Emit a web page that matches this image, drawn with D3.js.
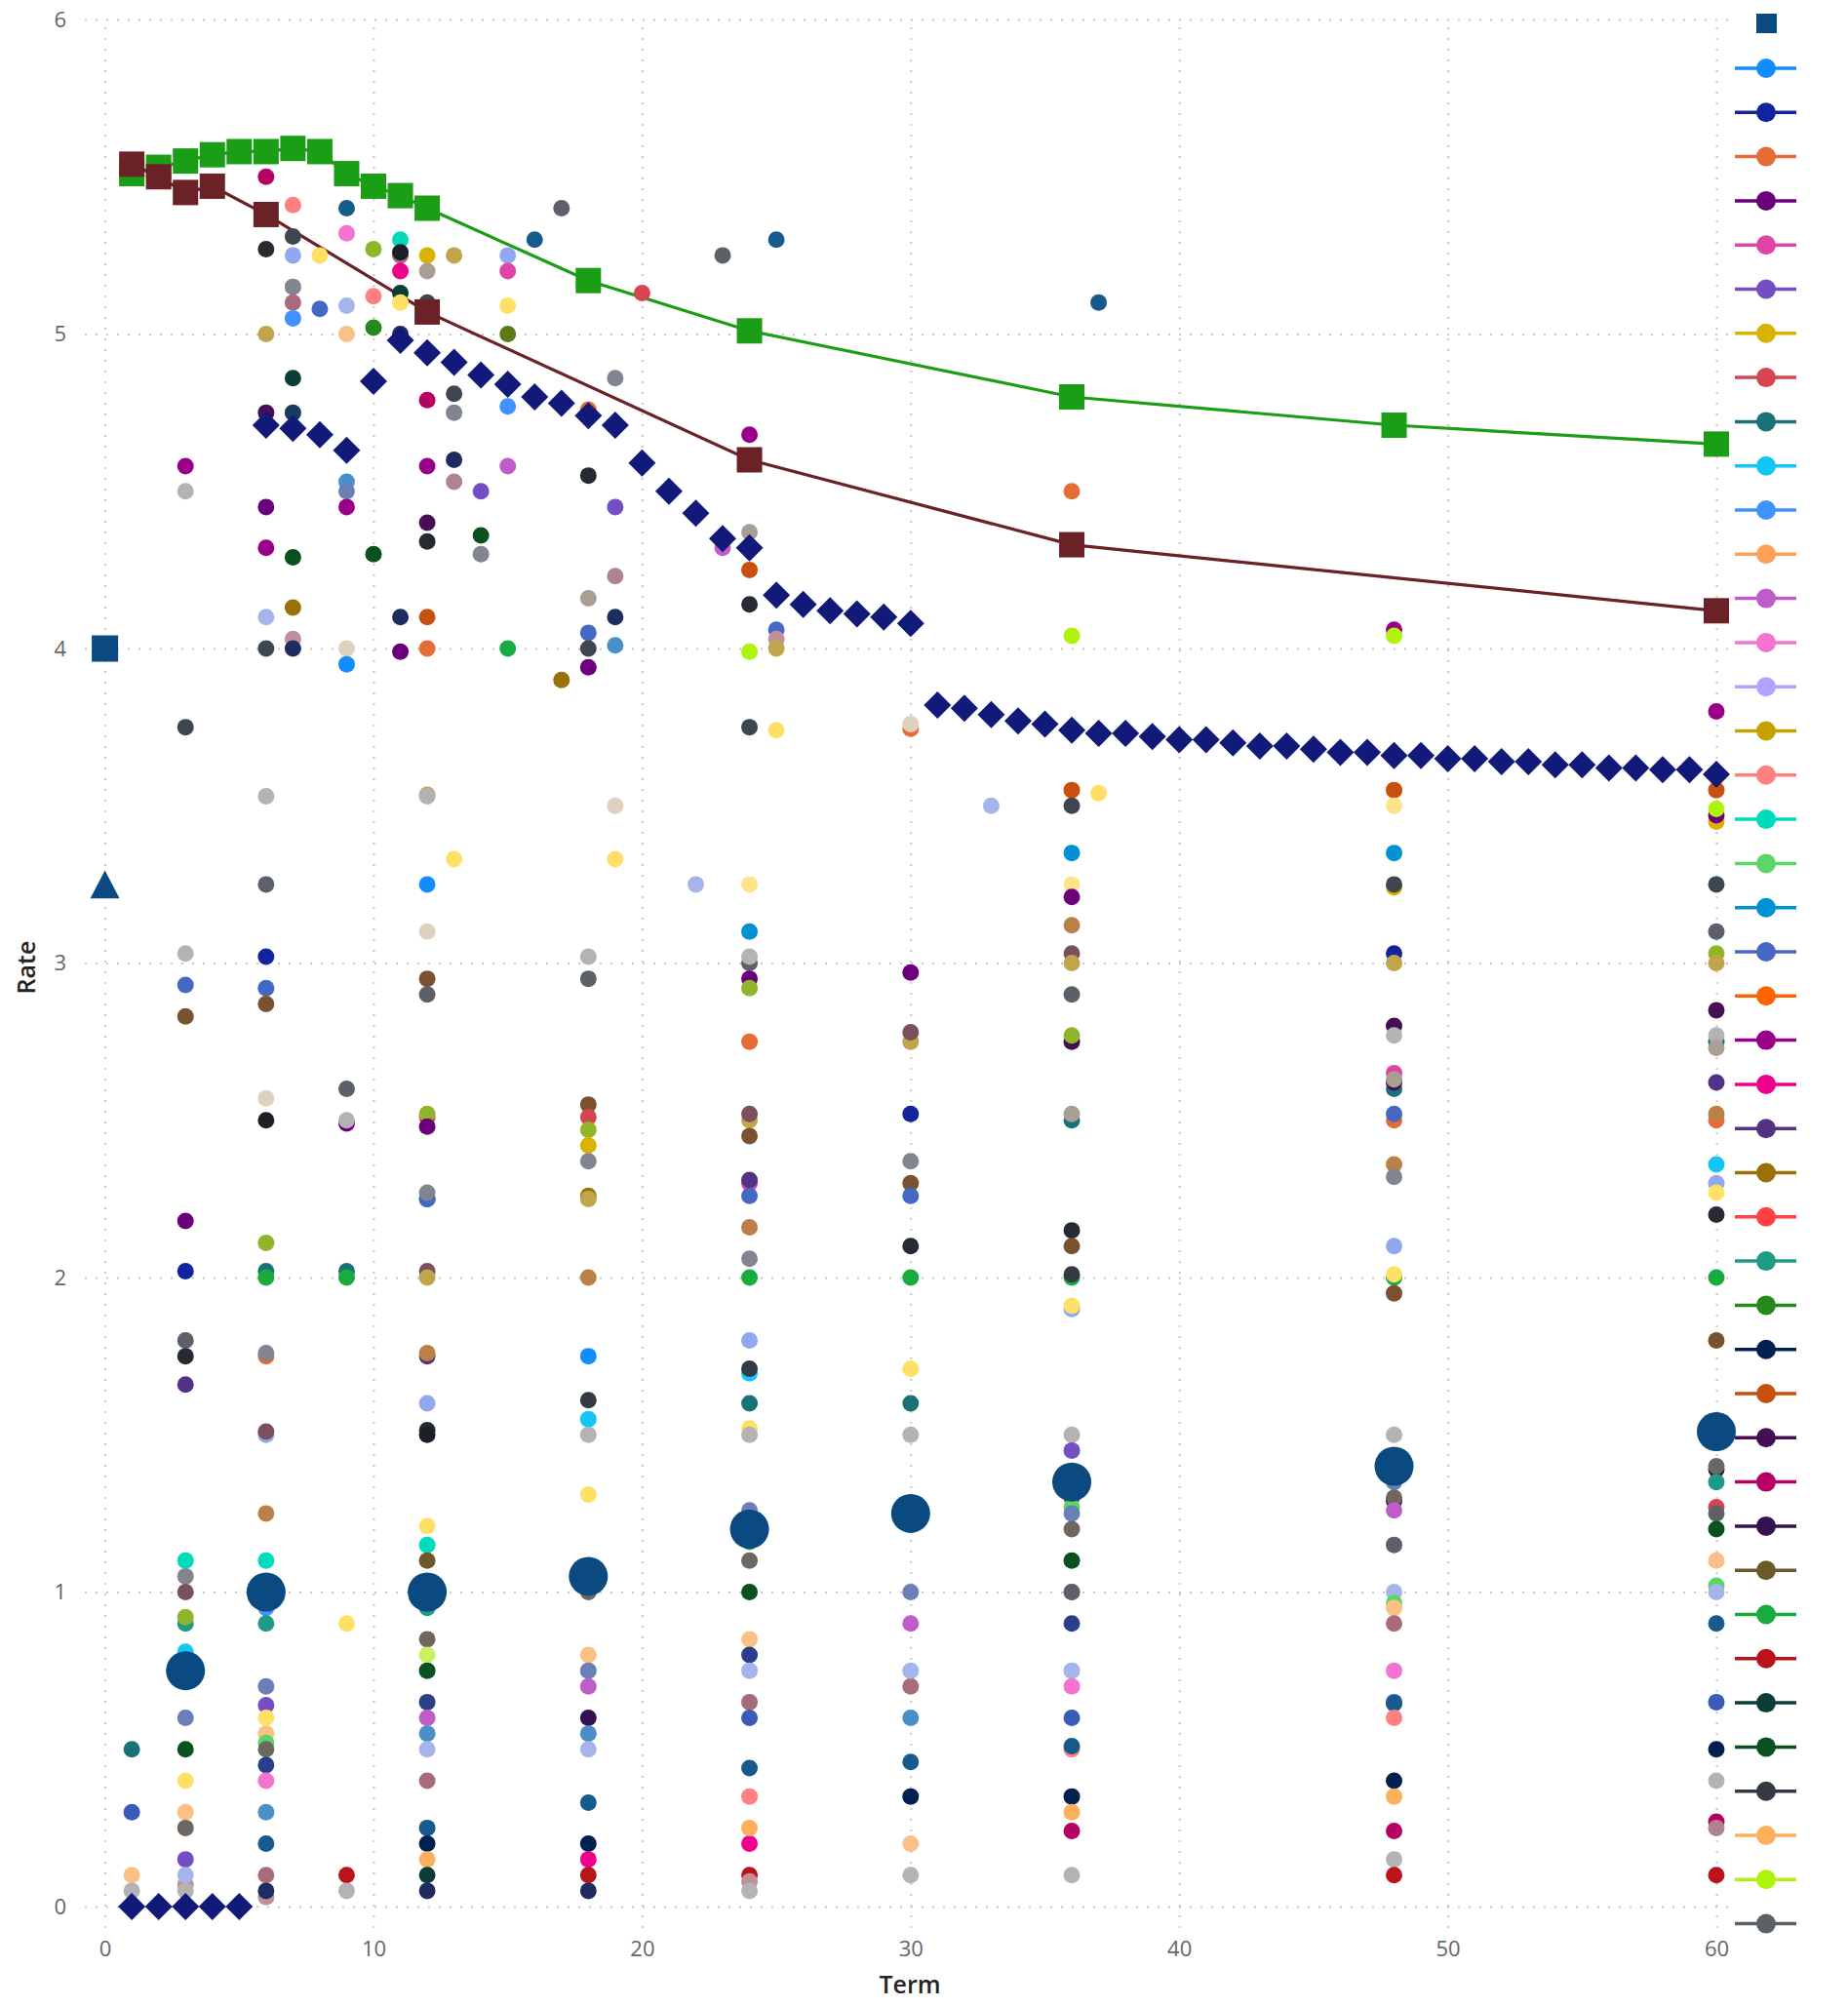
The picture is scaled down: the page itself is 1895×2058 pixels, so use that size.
<!DOCTYPE html>
<html><head><meta charset="utf-8">
<script src="https://cdn.jsdelivr.net/npm/d3@7"></script>
<style>
html,body{margin:0;padding:0;background:#fff;}
svg{display:block;}
text{font-family:"Segoe UI","Open Sans","Noto Sans",sans-serif;}
</style></head><body>
<svg id="chart" width="1895" height="2058"></svg>
<script>
// ---------- DATA ----------
const termTicks = [0,10,20,30,40,50,60];
const rateTicks = [0,1,2,3,4,5,6];

const greenTerms = [1,2,3,4,5,6,7,8,9,10,11,12,18,24,36,48,60];
const greenRates = [5.51,5.53,5.55,5.57,5.58,5.58,5.59,5.58,5.51,5.47,5.44,5.40,5.17,5.01,4.80,4.71,4.65];

const maroonTerms = [1,2,3,4,6,12,24,36,60];
const maroonRates = [5.54,5.50,5.45,5.47,5.38,5.07,4.60,4.33,4.12];

const diamondTerms = [1,2,3,4,5,6,7,8,9,10,11,12,13,14,15,16,17,18,19,20,21,22,23,24,25,26,27,28,29,30,31,32,33,34,35,36,37,38,39,40,41,42,43,44,45,46,47,48,49,50,51,52,53,54,55,56,57,58,59,60];
const diamondRates = [0,0,0,0,0,4.71,4.70,4.68,4.63,4.85,4.98,4.94,4.91,4.87,4.84,4.80,4.78,4.74,4.71,4.59,4.50,4.43,4.35,4.32,4.17,4.14,4.12,4.11,4.10,4.08,3.82,3.81,3.79,3.77,3.76,3.74,3.73,3.73,3.72,3.71,3.71,3.70,3.69,3.69,3.68,3.67,3.67,3.66,3.66,3.65,3.65,3.64,3.64,3.63,3.63,3.62,3.62,3.615,3.615,3.60];

const bigTerms = [3,6,12,18,24,30,36,48,60];
const bigRates = [0.75,1.00,1.00,1.05,1.20,1.25,1.35,1.40,1.51];

const squareTerm0 = [0, 4.0];
const triangleTerm0 = [0, 3.25];

const palette = {
 blue:'#118DFF', navy:'#12239E', orange:'#E66C37', purple:'#6B007B', pink:'#E044A7', violet:'#744EC2', gold:'#D9B300', red:'#D64550', teal:'#197278', cyan:'#15C6F4', blue2:'#4092FF', lorange:'#FFA058', orchid:'#BE5DC9', lpink:'#F472D0', lilac:'#B5A1FF', dgold:'#C4A200', salmon:'#FF8080', turq:'#00DBBC', lgreen:'#5BD667', blue3:'#0091D5', blue4:'#4668C5', orange2:'#FF6300', magenta:'#99008A', hotpink:'#EC008C', dpurple:'#533285', brgold:'#99700A', red2:'#FF4141', teal2:'#1F9A85', green2:'#25891C', navy2:'#002050', burnt:'#C94F0F', plum:'#450F54', crimson:'#B60064', plum2:'#34124F', olivebr:'#6A5A29', green:'#1AAB40', red3:'#BA141A', dteal:'#0C3D37', dgreen:'#0B511F', dgray:'#343A44', lorange2:'#FCB05C', lime:'#AFF20C', gray:'#5C6068',
 lgray:'#B3B3B3', beige:'#DFD0BF', yellow:'#FFE066', peach:'#FBC085', khaki:'#C0A54C', olive:'#8FB52A', brown:'#7B5230', mauvebr:'#7B4F5C', tan:'#BA8048', wgray:'#6E6660', slate:'#6A7FB5', lav:'#A5B4EA', lblue:'#8FA8EF', dblue:'#293F8A', steel:'#4A90C8', dblue2:'#175A8C', mauve:'#A86B7A', rose:'#C0909A', dnavy:'#1E2D5E', dark:'#262A33', dgray2:'#404552', black:'#1C1F26', mgray:'#808590', wgray2:'#A89E94', blue5:'#3A5BB8', olive2:'#5C7A1A', lyellow:'#FFE38A', llime:'#C8F060', dteal2:'#173D5E', rose2:'#B0848F',
 bigblue:'#0B4A80', greenLine:'#1A9E15', maroon:'#6B2226', diamond:'#111A78'
};

const legendSeries = ['blue','navy','orange','purple','pink','violet','gold','red','teal','cyan','blue2','lorange','orchid','lpink','lilac','dgold','salmon','turq','lgreen','blue3','blue4','orange2','magenta','hotpink','dpurple','brgold','red2','teal2','green2','navy2','burnt','plum','crimson','plum2','olivebr','green','red3','dteal','dgreen','dgray','lorange2','lime','gray'];

// scatter dots per term: [rate, series colour key]
const dotsT1 = [[0.50,'teal'],[0.30,'blue5'],[0.10,'peach'],[0.05,'lgray']];
const dotsT3 = [[4.58,'magenta'],[4.50,'lgray'],[3.75,'dgray2'],[3.03,'lgray'],[2.93,'blue4'],[2.83,'brown'],[2.18,'purple'],[2.02,'navy'],[1.80,'gray'],[1.75,'dark'],[1.66,'dpurple'],[1.10,'turq'],[1.05,'mgray'],[1.00,'mauvebr'],[0.90,'teal2'],[0.92,'olive'],[0.81,'cyan'],[0.60,'slate'],[0.50,'dgreen'],[0.40,'yellow'],[0.30,'peach'],[0.25,'wgray'],[0.15,'violet'],[0.07,'rose'],[0.10,'lav'],[0.05,'lgray']];
const dotsT6 = [[5.50,'crimson'],[5.27,'dark'],[5.00,'khaki'],[4.75,'plum'],[4.45,'purple'],[4.32,'magenta'],[4.10,'lav'],[4.00,'dgray2'],[3.53,'lgray'],[3.25,'gray'],[3.02,'navy'],[2.92,'blue4'],[2.87,'brown'],[2.57,'beige'],[2.50,'black'],[2.11,'olive'],[2.02,'teal'],[2.00,'green'],[1.75,'orange'],[1.76,'mgray'],[1.50,'lblue'],[1.51,'mauvebr'],[1.25,'tan'],[1.10,'turq'],[0.95,'blue2'],[0.90,'teal2'],[0.70,'slate'],[0.64,'violet'],[0.60,'yellow'],[0.55,'peach'],[0.52,'lgreen'],[0.50,'wgray'],[0.45,'dblue'],[0.40,'lpink'],[0.30,'steel'],[0.20,'dblue2'],[0.03,'rose'],[0.10,'mauve'],[0.05,'dnavy']];
const dotsT7 = [[5.41,'salmon'],[5.31,'dgray2'],[5.25,'lblue'],[5.15,'mgray'],[5.10,'mauve'],[5.05,'blue2'],[4.86,'dteal'],[4.75,'dteal2'],[4.29,'dgreen'],[4.13,'brgold'],[4.03,'rose'],[4.00,'dnavy']];
const dotsT8 = [[5.25,'yellow'],[5.08,'blue4']];
const dotsT9 = [[5.40,'dblue2'],[5.32,'lpink'],[5.09,'lav'],[5.00,'peach'],[4.53,'steel'],[4.50,'slate'],[4.45,'magenta'],[4.00,'beige'],[3.95,'blue'],[2.60,'gray'],[2.49,'purple'],[2.50,'lgray'],[2.02,'teal'],[2.00,'green'],[0.90,'yellow'],[0.10,'red3'],[0.05,'lgray']];
const dotsT10 = [[5.27,'olive'],[5.12,'salmon'],[5.02,'green2'],[4.30,'dgreen']];
const dotsT11 = [[5.30,'turq'],[5.25,'mauve'],[5.26,'black'],[5.20,'hotpink'],[5.13,'dteal'],[5.10,'yellow'],[5.00,'dnavy'],[4.10,'dnavy'],[3.99,'purple']];
const dotsT12 = [[5.25,'gold'],[5.20,'wgray2'],[5.10,'dgray2'],[4.79,'crimson'],[4.58,'magenta'],[4.40,'plum'],[4.34,'dark'],[4.10,'burnt'],[4.00,'orange'],[3.535,'khaki'],[3.53,'lgray'],[3.25,'blue'],[3.10,'beige'],[2.95,'brown'],[2.90,'gray'],[2.51,'red'],[2.52,'olive'],[2.48,'purple'],[2.25,'teal'],[2.25,'blue4'],[2.27,'mgray'],[2.02,'mauvebr'],[2.00,'khaki'],[1.75,'dpurple'],[1.76,'tan'],[1.60,'lblue'],[1.515,'dark'],[1.50,'black'],[1.21,'yellow'],[1.15,'turq'],[1.10,'olivebr'],[0.95,'teal2'],[0.85,'wgray'],[0.80,'llime'],[0.75,'dgreen'],[0.65,'dblue'],[0.60,'orchid'],[0.55,'steel'],[0.50,'lav'],[0.40,'mauve'],[0.25,'dblue2'],[0.20,'navy2'],[0.15,'lorange2'],[0.10,'dteal'],[0.05,'dnavy']];
const dotsT13 = [[5.25,'khaki'],[4.81,'dgray2'],[4.75,'mgray'],[4.60,'dnavy'],[4.53,'rose2'],[3.33,'yellow']];
const dotsT14 = [[4.50,'violet'],[4.36,'dgreen'],[4.30,'mgray']];
const dotsT15 = [[5.25,'lblue'],[5.20,'pink'],[5.09,'yellow'],[5.00,'olive2'],[4.77,'blue2'],[4.58,'orchid'],[4.00,'green']];
const dotsT16 = [[5.30,'dblue2']];
const dotsT17 = [[5.40,'gray'],[3.90,'brgold']];
const dotsT18 = [[4.76,'orange'],[4.55,'dark'],[4.16,'wgray2'],[4.05,'blue4'],[4.00,'dgray2'],[3.94,'purple'],[3.02,'lgray'],[2.95,'gray'],[2.55,'brown'],[2.51,'red'],[2.47,'olive'],[2.42,'gold'],[2.37,'mgray'],[2.26,'brgold'],[2.25,'khaki'],[2.00,'tan'],[1.75,'blue'],[1.61,'dgray'],[1.55,'cyan'],[1.50,'lgray'],[1.31,'yellow'],[1.00,'wgray'],[0.80,'peach'],[0.75,'slate'],[0.70,'orchid'],[0.60,'plum2'],[0.55,'steel'],[0.50,'lav'],[0.33,'dblue2'],[0.20,'navy2'],[0.15,'hotpink'],[0.10,'red3'],[0.05,'dnavy']];
const dotsT19 = [[4.86,'mgray'],[4.45,'violet'],[4.23,'rose2'],[4.10,'dnavy'],[4.01,'steel'],[3.50,'beige'],[3.33,'yellow']];
const dotsT20 = [[5.13,'red']];
const dotsT22 = [[3.25,'lav']];
const dotsT23 = [[5.25,'gray'],[4.32,'orchid']];
const dotsT24 = [[4.68,'magenta'],[4.37,'wgray2'],[4.25,'burnt'],[4.14,'dark'],[3.99,'lime'],[3.75,'dgray2'],[3.25,'lyellow'],[3.10,'blue3'],[3.00,'gray'],[3.02,'lgray'],[2.95,'purple'],[2.92,'olive'],[2.75,'orange'],[2.50,'khaki'],[2.52,'mauvebr'],[2.45,'brown'],[2.30,'pink'],[2.31,'dpurple'],[2.26,'blue4'],[2.16,'tan'],[2.06,'mgray'],[2.00,'green'],[1.80,'lblue'],[1.695,'cyan'],[1.71,'dgray'],[1.60,'teal'],[1.52,'yellow'],[1.50,'lgray'],[1.26,'slate'],[1.16,'green'],[1.10,'wgray'],[1.00,'dgreen'],[0.85,'peach'],[0.80,'dblue'],[0.75,'lav'],[0.65,'mauve'],[0.60,'blue5'],[0.44,'dblue2'],[0.35,'salmon'],[0.20,'hotpink'],[0.25,'lorange2'],[0.10,'red3'],[0.08,'rose'],[0.05,'lgray']];
const dotsT25 = [[5.30,'dblue2'],[4.06,'blue4'],[4.03,'rose'],[4.00,'khaki'],[3.74,'yellow']];
const dotsT30 = [[3.745,'orange'],[3.76,'beige'],[2.97,'purple'],[2.75,'khaki'],[2.78,'mauvebr'],[2.52,'navy'],[2.37,'mgray'],[2.30,'brown'],[2.26,'blue4'],[2.10,'dark'],[2.00,'green'],[1.71,'yellow'],[1.60,'teal'],[1.50,'lgray'],[1.22,'green'],[1.00,'slate'],[0.90,'orchid'],[0.70,'mauve'],[0.75,'lav'],[0.60,'steel'],[0.46,'dblue2'],[0.35,'navy2'],[0.20,'peach'],[0.10,'lgray']];
const dotsT33 = [[3.50,'lav']];
const dotsT36 = [[4.50,'orange'],[4.04,'lime'],[3.55,'burnt'],[3.50,'dgray2'],[3.35,'blue3'],[3.25,'lyellow'],[3.21,'purple'],[3.12,'tan'],[3.03,'mauvebr'],[3.00,'khaki'],[2.90,'gray'],[2.75,'plum'],[2.77,'olive'],[2.50,'teal'],[2.52,'wgray2'],[2.15,'dark'],[2.10,'brown'],[2.00,'green'],[2.01,'dgray'],[1.90,'lblue'],[1.91,'yellow'],[1.50,'lgray'],[1.45,'violet'],[1.30,'olivebr'],[1.27,'lgreen'],[1.25,'slate'],[1.20,'wgray'],[1.10,'dgreen'],[1.00,'rose'],[1.00,'gray'],[0.90,'dblue'],[0.75,'lav'],[0.70,'lpink'],[0.60,'blue5'],[0.50,'salmon'],[0.51,'dblue2'],[0.35,'navy2'],[0.30,'lorange2'],[0.24,'crimson'],[0.10,'lgray']];
const dotsT37 = [[5.10,'dblue2'],[3.54,'yellow']];
const dotsT48 = [[4.06,'magenta'],[4.04,'lime'],[3.55,'burnt'],[3.50,'lyellow'],[3.35,'blue3'],[3.24,'gold'],[3.25,'dgray2'],[3.03,'navy'],[3.00,'khaki'],[2.80,'plum'],[2.77,'lgray'],[2.65,'pink'],[2.60,'teal'],[2.62,'plum'],[2.63,'wgray2'],[2.50,'orange'],[2.52,'blue4'],[2.36,'tan'],[2.32,'mgray'],[2.10,'lblue'],[2.00,'green'],[2.01,'yellow'],[1.95,'brown'],[1.50,'lgray'],[1.35,'slate'],[1.29,'plum2'],[1.30,'wgray'],[1.26,'orchid'],[1.15,'gray'],[1.00,'lav'],[0.965,'lgreen'],[0.95,'peach'],[0.90,'mauve'],[0.75,'lpink'],[0.65,'blue5'],[0.645,'dblue2'],[0.60,'salmon'],[0.40,'navy2'],[0.35,'lorange2'],[0.24,'crimson'],[0.15,'lgray'],[0.10,'red3']];
const dotsT60 = [[3.80,'magenta'],[3.55,'burnt'],[3.45,'gold'],[3.47,'purple'],[3.49,'lime'],[3.25,'dgray2'],[3.10,'gray'],[3.03,'olive'],[3.00,'khaki'],[2.85,'plum'],[2.75,'teal'],[2.77,'lgray'],[2.73,'wgray2'],[2.62,'dpurple'],[2.50,'orange'],[2.52,'tan'],[2.36,'cyan'],[2.30,'lblue'],[2.27,'yellow'],[2.20,'dark'],[2.00,'green'],[1.80,'brown'],[1.39,'plum2'],[1.40,'wgray'],[1.35,'teal2'],[1.27,'red'],[1.25,'gray'],[1.20,'dgreen'],[1.10,'peach'],[1.02,'lgreen'],[1.00,'lav'],[0.90,'dblue2'],[0.65,'blue5'],[0.50,'navy2'],[0.40,'lgray'],[0.27,'crimson'],[0.25,'rose2'],[0.10,'red3']];

const dotColumns = [[1,dotsT1],[3,dotsT3],[6,dotsT6],[7,dotsT7],[8,dotsT8],[9,dotsT9],[10,dotsT10],[11,dotsT11],[12,dotsT12],[13,dotsT13],[14,dotsT14],[15,dotsT15],[16,dotsT16],[17,dotsT17],[18,dotsT18],[19,dotsT19],[20,dotsT20],[22,dotsT22],[23,dotsT23],[24,dotsT24],[25,dotsT25],[30,dotsT30],[33,dotsT33],[36,dotsT36],[37,dotsT37],[48,dotsT48],[60,dotsT60]];

// ---------- CHART ----------
const svg = d3.select('#chart');
const x = d3.scaleLinear().domain([0,60]).range([107.6,1760]);
const y = d3.scaleLinear().domain([0,6]).range([1955,20]);
const plotLeft = 87, plotRight = 1772, plotTop = 25, plotBottom = 1977;

const gridColor = '#c8c8c8';

// Y axis with gridlines
const yAxis = d3.axisLeft(y).tickValues(rateTicks).tickFormat(d3.format('d'))
  .tickSize(-(plotRight-plotLeft)).tickPadding(19);
const gy = svg.append('g').attr('transform',`translate(${plotLeft},0)`).call(yAxis);
gy.select('.domain').remove();
gy.selectAll('.tick line').attr('stroke',gridColor).attr('stroke-width',2).attr('stroke-dasharray','2,9');
gy.selectAll('.tick text').attr('fill','#666').style('font-size','22px').style('font-family','"Segoe UI","Open Sans",sans-serif');

// X axis with gridlines
const xAxis = d3.axisBottom(x).tickValues(termTicks).tickFormat(d3.format('d'))
  .tickSize(-(plotBottom-plotTop)).tickPadding(13);
const gx = svg.append('g').attr('transform',`translate(0,${plotBottom})`).call(xAxis);
gx.select('.domain').remove();
gx.selectAll('.tick line').attr('stroke',gridColor).attr('stroke-width',2).attr('stroke-dasharray','2,9');
gx.selectAll('.tick text').attr('fill','#666').style('font-size','22px').style('font-family','"Segoe UI","Open Sans",sans-serif');

// axis titles
svg.append('text').attr('x',933).attr('y',2044).attr('text-anchor','middle')
  .attr('fill','#252423').style('font-size','25px').style('font-weight','600').text('Term');
svg.append('text').attr('transform','translate(36,992) rotate(-90)').attr('text-anchor','middle')
  .attr('fill','#252423').style('font-size','25px').style('font-weight','600').text('Rate');

// lines
const lineGen = d3.line().x(d=>x(d[0])).y(d=>y(d[1]));
const greenPts = greenTerms.map((t,i)=>[t,greenRates[i]]);
const maroonPts = maroonTerms.map((t,i)=>[t,maroonRates[i]]);
svg.append('path').attr('d',lineGen(greenPts)).attr('fill','none').attr('stroke',palette.greenLine).attr('stroke-width',3.2);
svg.append('path').attr('d',lineGen(maroonPts)).attr('fill','none').attr('stroke',palette.maroon).attr('stroke-width',3.2);

// scatter dots
const dots = [];
dotColumns.forEach(([t,arr])=>arr.forEach(([r,c])=>dots.push([t,r,c])));
svg.append('g').selectAll('circle').data(dots).join('circle')
  .attr('cx',d=>x(d[0])).attr('cy',d=>y(d[1])).attr('r',8.5)
  .attr('fill',d=>palette[d[2]]);

// big circles
svg.append('g').selectAll('circle').data(bigTerms.map((t,i)=>[t,bigRates[i]])).join('circle')
  .attr('cx',d=>x(d[0])).attr('cy',d=>y(d[1])).attr('r',20)
  .attr('fill',palette.bigblue);

// squares
const sq = 26;
svg.append('g').selectAll('rect').data(greenPts).join('rect')
  .attr('x',d=>x(d[0])-sq/2).attr('y',d=>y(d[1])-sq/2).attr('width',sq).attr('height',sq)
  .attr('fill',palette.greenLine);
svg.append('g').selectAll('rect').data(maroonPts).join('rect')
  .attr('x',d=>x(d[0])-sq/2).attr('y',d=>y(d[1])-sq/2).attr('width',sq).attr('height',sq)
  .attr('fill',palette.maroon);

// diamonds
const dh = 14;
svg.append('g').selectAll('path').data(diamondTerms.map((t,i)=>[t,diamondRates[i]])).join('path')
  .attr('d',d=>{const cx=x(d[0]),cy=y(d[1]);return `M${cx},${cy-dh}L${cx+dh},${cy}L${cx},${cy+dh}L${cx-dh},${cy}Z`;})
  .attr('fill',palette.diamond);

// term-0 square and triangle
svg.append('rect').attr('x',x(squareTerm0[0])-13.5).attr('y',y(squareTerm0[1])-13.5)
  .attr('width',27).attr('height',27).attr('fill',palette.bigblue);
{
  const cx = x(triangleTerm0[0]), cy = y(triangleTerm0[1]);
  svg.append('path').attr('d',`M${cx},${cy-14.3}L${cx+15},${cy+14.3}L${cx-15},${cy+14.3}Z`).attr('fill',palette.bigblue);
}

// legend (markers only)
const lg = svg.append('g');
lg.append('rect').attr('x',1801).attr('y',14).attr('width',21).attr('height',20).attr('fill',palette.bigblue);
const items = lg.selectAll('g.item').data(legendSeries).join('g').attr('class','item')
  .attr('transform',(d,i)=>`translate(1811,${70 + i*45.3})`);
items.append('line').attr('x1',-32).attr('x2',31).attr('y1',0).attr('y2',0)
  .attr('stroke',d=>palette[d]).attr('stroke-width',3.5);
items.append('circle').attr('r',10).attr('fill',d=>palette[d]);
</script></body></html>
